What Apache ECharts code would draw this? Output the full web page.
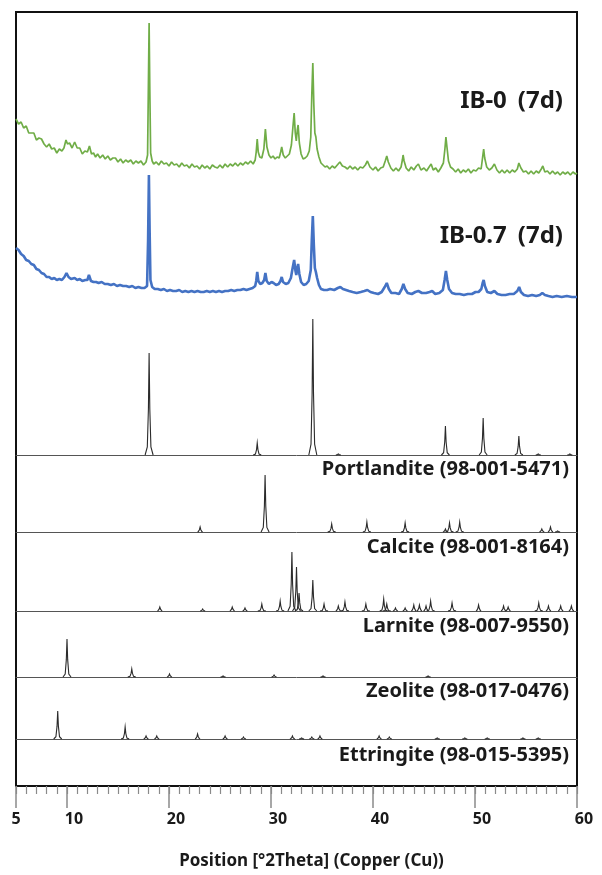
<!DOCTYPE html>
<html>
<head>
<meta charset="utf-8">
<script src="https://cdn.jsdelivr.net/npm/echarts@6/dist/echarts.min.js"></script>
<style>
  html, body { margin: 0; padding: 0; background: #fff; }
  #chart { width: 602px; height: 875px; }
</style>
</head>
<body>
<div id="chart"></div>
<script>
// 2θ range of the scan (Cu Kα)
const thetaMin = 5;
const thetaMax = 60;
const majorTicks = [5, 10, 20, 30, 40, 50, 60];

// Measured patterns, [2θ, intensity (a.u., above each trace's own zero)]
const ib0Pattern = [
  [5.00,66],[5.25,61],[5.50,63],[5.75,57],[6.00,59],[6.25,52],[6.50,52],[6.75,52],[7.00,45],[7.25,47],
  [7.50,46],[7.75,41],[8.00,38],[8.25,41],[8.50,36],[8.75,37],[9.00,32],[9.25,36],[9.50,34],[9.70,37],
  [9.90,45],[10.05,41],[10.25,42],[10.50,37],[10.75,43],[11.00,37],[11.25,37],[11.50,31],[11.75,34],[12.00,33],
  [12.20,39],[12.40,31],[12.60,32],[12.80,28],[13.00,31],[13.25,27],[13.50,30],[13.75,26],[14.00,29],[14.25,25],
  [14.50,27],[14.75,27],[15.00,23],[15.25,26],[15.50,22],[15.75,25],[16.00,23],[16.25,25],[16.50,21],[16.75,24],
  [17.00,22],[17.25,24],[17.50,20],[17.75,23],[17.90,30],[17.98,100],[18.05,162],[18.12,95],[18.20,32],[18.35,24],
  [18.50,21],[18.75,23],[19.00,20],[19.25,24],[19.50,21],[19.75,22],[20.00,19],[20.25,23],[20.50,20],[20.75,21],
  [21.00,18],[21.25,22],[21.50,19],[21.75,20],[22.00,17],[22.25,21],[22.50,18],[22.75,19],[23.00,16],[23.25,20],
  [23.50,17],[23.75,19],[24.00,16],[24.25,20],[24.50,18],[24.75,17],[25.00,20],[25.25,17],[25.50,21],[25.75,18],
  [26.00,21],[26.25,19],[26.50,22],[26.75,19],[27.00,22],[27.25,20],[27.50,23],[27.75,21],[28.00,24],[28.25,21],
  [28.45,25],[28.55,33],[28.65,46],[28.75,33],[28.90,28],[29.10,27],[29.30,36],[29.45,56],[29.60,38],[29.80,30],
  [30.00,27],[30.20,29],[30.40,26],[30.60,28],[30.80,27],[30.95,33],[31.05,38],[31.20,30],[31.40,27],[31.60,29],
  [31.80,31],[32.00,40],[32.15,58],[32.27,72],[32.38,52],[32.48,44],[32.58,55],[32.66,60],[32.78,42],[32.95,31],
  [33.15,26],[33.35,27],[33.55,29],[33.75,34],[33.90,48],[34.00,90],[34.10,122],[34.20,80],[34.30,52],[34.40,48],
  [34.52,36],[34.70,28],[34.90,22],[35.10,20],[35.30,18],[35.50,19],[35.75,16],[36.00,19],[36.25,17],[36.50,20],
  [36.75,23],[37.00,19],[37.25,18],[37.50,16],[37.75,19],[38.00,16],[38.25,18],[38.50,15],[38.75,18],[39.00,17],
  [39.25,20],[39.45,24],[39.70,18],[40.00,15],[40.25,18],[40.50,14],[40.75,17],[41.00,18],[41.20,24],[41.35,29],
  [41.50,23],[41.75,17],[42.00,14],[42.25,17],[42.50,14],[42.75,18],[42.88,25],[42.95,30],[43.05,24],[43.25,17],
  [43.50,14],[43.75,18],[44.00,15],[44.25,19],[44.45,21],[44.70,15],[45.00,17],[45.25,14],[45.50,18],[45.70,21],
  [45.90,15],[46.15,17],[46.40,13],[46.65,17],[46.90,22],[47.05,36],[47.15,48],[47.25,38],[47.40,24],[47.60,18],
  [47.85,16],[48.10,13],[48.35,16],[48.60,12],[48.85,15],[49.10,13],[49.35,16],[49.60,12],[49.85,15],[50.10,14],
  [50.35,17],[50.60,16],[50.75,28],[50.85,36],[50.95,27],[51.15,18],[51.40,15],[51.65,17],[51.90,21],[52.15,15],
  [52.40,12],[52.65,15],[52.90,12],[53.15,15],[53.40,12],[53.65,15],[53.90,13],[54.15,16],[54.30,22],[54.38,24],
  [54.50,17],[54.75,13],[55.00,14],[55.25,11],[55.50,14],[55.75,11],[56.00,14],[56.25,12],[56.50,16],[56.65,19],
  [56.85,13],[57.10,14],[57.35,11],[57.60,14],[57.85,11],[58.10,13],[58.35,10],[58.60,13],[58.85,11],[59.10,13],
  [59.35,10],[59.60,13],[59.85,11],[60.00,12]
];

const ib07Pattern = [
  [5.00,52],[5.25,50],[5.50,46],[5.75,44],[6.00,40],[6.25,39],[6.50,36],[6.75,35],[7.00,31],[7.25,30],
  [7.50,27],[7.75,26],[8.00,23],[8.25,23],[8.50,21],[8.75,22],[9.00,20],[9.25,21],[9.50,20],[9.75,23],
  [9.95,27],[10.15,23],[10.40,21],[10.75,22],[11.00,20],[11.25,21],[11.50,19],[11.80,20],[12.00,20],[12.15,25],
  [12.35,19],[12.60,18],[12.85,18],[13.10,17],[13.40,18],[13.70,16],[14.00,16],[14.30,15],[14.60,16],[14.90,14],
  [15.20,15],[15.50,14],[15.80,14],[16.10,13],[16.40,14],[16.70,12],[17.00,13],[17.30,12],[17.60,12],[17.85,14],
  [17.95,60],[18.03,125],[18.10,70],[18.18,20],[18.35,13],[18.60,11],[18.90,11],[19.20,10],[19.50,11],[19.80,9],
  [20.10,10],[20.40,9],[20.70,9],[21.00,10],[21.30,8],[21.60,9],[21.90,8],[22.20,9],[22.50,8],[22.80,9],
  [23.10,8],[23.40,8],[23.70,9],[24.00,8],[24.30,9],[24.60,8],[24.90,9],[25.20,8],[25.50,9],[25.80,9],
  [26.10,10],[26.40,9],[26.70,10],[27.00,10],[27.30,11],[27.60,10],[27.90,11],[28.20,12],[28.45,14],[28.55,19],
  [28.65,28],[28.76,19],[28.95,16],[29.15,17],[29.33,20],[29.45,27],[29.58,19],[29.80,16],[30.05,18],[30.25,17],
  [30.50,15],[30.75,16],[30.93,19],[31.05,23],[31.18,18],[31.45,16],[31.70,17],[31.95,22],[32.12,32],[32.27,40],
  [32.40,29],[32.48,25],[32.58,32],[32.66,36],[32.78,26],[32.95,18],[33.20,15],[33.45,16],[33.70,19],[33.90,30],
  [34.00,60],[34.10,84],[34.20,55],[34.30,32],[34.40,28],[34.52,22],[34.70,15],[34.90,11],[35.20,10],[35.50,10],
  [35.80,11],[36.20,10],[36.55,12],[36.80,13],[37.05,11],[37.35,10],[37.65,9],[38.00,8],[38.40,7],[38.80,8],
  [39.15,9],[39.45,10],[39.75,8],[40.10,7],[40.50,6],[40.85,8],[41.15,13],[41.35,17],[41.55,11],[41.80,7],
  [42.20,7],[42.55,6],[42.82,11],[42.98,16],[43.15,11],[43.40,7],[43.80,6],[44.15,8],[44.45,9],[44.80,7],
  [45.20,7],[45.55,8],[45.80,9],[46.10,6],[46.50,7],[46.85,10],[47.02,20],[47.15,29],[47.28,20],[47.45,11],
  [47.75,7],[48.10,6],[48.50,6],[48.90,5],[49.30,6],[49.70,6],[50.05,8],[50.35,8],[50.62,11],[50.75,17],
  [50.85,20],[50.97,14],[51.20,8],[51.55,7],[51.90,9],[52.20,6],[52.60,5],[53.00,5],[53.40,6],[53.80,6],
  [54.15,9],[54.33,13],[54.50,8],[54.80,5],[55.20,4],[55.60,5],[56.00,4],[56.35,5],[56.60,7],[56.85,5],
  [57.20,4],[57.60,3],[58.00,4],[58.50,3],[59.00,4],[59.50,3],[60.00,3]
];

// Reference cards, [2θ, relative intensity]
const portlanditePeaks = [[18.05,102],[28.65,12],[34.10,136],[36.60,1],[47.10,29],[50.80,37],[54.30,19],[56.20,1],[59.30,1]];
const calcitePeaks = [[23.05,5],[29.42,57],[35.95,8],[39.40,10],[43.15,9],[47.10,3],[47.50,9],[48.50,10],[56.55,3],[57.40,5],[58.10,1]];
const larnitePeaks = [
  [19.10,4],[23.30,2],[26.20,4],[27.45,3],[29.10,7],[30.90,10],[32.05,59],[32.50,44],[32.75,18],[34.10,31],
  [35.20,7],[36.60,5],[37.25,9],[39.30,7],[41.05,12],[41.35,7],[42.20,3],[43.15,3],[44.00,6],[44.55,6],
  [45.20,5],[45.65,10],[47.75,8],[50.35,6],[52.80,5],[53.25,4],[56.25,8],[57.20,5],[58.40,5],[59.45,5]
];
const zeolitePeaks = [[10.00,38],[16.35,8],[20.05,3],[25.30,1],[30.30,2],[35.10,1],[45.40,1]];
const ettringitePeaks = [
  [9.09,28],[15.70,12],[17.75,3],[18.80,3],[22.80,5],[25.50,3],[27.30,2],[32.10,3],[33.00,1],[34.00,2],
  [34.80,3],[40.60,3],[41.60,2],[46.30,1],[49.00,1],[51.20,1],[54.70,1],[56.20,1]
];

// Sample names and curing age
const sampleNames = ['IB-0', 'IB-0.7'];
const sampleAge = '(7d)';
const cardLabels = ['Portlandite (98-001-5471)', 'Calcite (98-001-8164)', 'Larnite (98-007-9550)',
                    'Zeolite (98-017-0476)', 'Ettringite (98-015-5395)'];
const axisTitle = 'Position [°2Theta] (Copper (Cu))';

// Panel layout: each trace gets its own strip, zero at the strip bottom
const FONT = '"Noto Sans", "DejaVu Sans", sans-serif';
const L = 16, R = 25;
const strips = [
  { top: 12,  height: 173 },  // IB-0
  { top: 150, height: 150 },  // IB-0.7
  { top: 300, height: 155 },  // Portlandite
  { top: 460, height: 72 },   // Calcite
  { top: 540, height: 71 },   // Larnite
  { top: 630, height: 47 },   // Zeolite
  { top: 700, height: 39 }    // Ettringite
];

const grid = strips.map(s => ({ left: L, right: R, top: s.top, height: s.height }));
grid.push({ left: L, right: R, top: 12, bottom: 89, show: true, borderColor: '#111', borderWidth: 2, backgroundColor: 'transparent' });
grid.push({ left: L, right: R, top: 12, bottom: 89 });

const xAxis = strips.map((s, i) => ({
  gridIndex: i, type: 'value', min: thetaMin, max: thetaMax,
  axisLine: { show: i >= 2, onZero: true, lineStyle: { color: '#555', width: 1 } },
  axisTick: { show: false }, axisLabel: { show: false }, splitLine: { show: false }
}));
const yAxis = strips.map((s, i) => ({
  gridIndex: i, type: 'value', min: 0, max: s.height, show: false, splitLine: { show: false }
}));

// Frame axis: labelled major ticks
xAxis.push({
  gridIndex: 7, type: 'value', min: thetaMin, max: thetaMax, position: 'bottom',
  axisLine: { show: true, onZero: false, lineStyle: { color: '#111', width: 2 } },
  axisTick: { show: true, customValues: majorTicks, length: 22, lineStyle: { color: '#8a8a8a', width: 1.5 } },
  axisLabel: {
    show: true, customValues: majorTicks, margin: 25,
    fontSize: 16, fontWeight: 'bold', fontFamily: FONT, color: '#1a1a1a',
    formatter: v => (v === 5 ? '{s|5}' : '{d|' + v + '}'),
    rich: {
      s: { fontSize: 16, fontWeight: 'bold', fontFamily: FONT, color: '#1a1a1a' },
      d: { fontSize: 16, fontWeight: 'bold', fontFamily: FONT, color: '#1a1a1a', padding: [0, 0, 0, 14] }
    }
  },
  splitLine: { show: false },
  name: axisTitle, nameLocation: 'middle', nameGap: 67,
  nameTextStyle: { fontSize: 17, fontWeight: 'bold', fontFamily: FONT, color: '#1a1a1a', padding: [0, 0, 0, 30] }
});
yAxis.push({ gridIndex: 7, type: 'value', min: 0, max: 1, show: false });

// Minor ticks every 1°
xAxis.push({
  gridIndex: 8, type: 'value', min: thetaMin, max: thetaMax, interval: 1, position: 'bottom',
  axisLine: { show: false, onZero: false },
  axisTick: { show: true, length: 8, lineStyle: { color: '#8a8a8a', width: 1.2 } },
  axisLabel: { show: false }, splitLine: { show: false }
});
yAxis.push({ gridIndex: 8, type: 'value', min: 0, max: 1, show: false });

// Narrow peak glyph for a reference reflection
function peakItem(params, api) {
  const c = api.value(0), h = api.value(1);
  const top = api.coord([c, h]);
  const base = api.coord([c, 0]);
  const H = base[1] - top[1];
  const x = top[0], y0 = base[1];
  const w = H > 6 ? 4 : 2.5;
  return {
    type: 'polyline',
    shape: { points: [[x - w, y0], [x - 1.8, y0 - H * 0.08], [x - 0.7, y0 - H * 0.45], [x, top[1]],
                      [x + 0.7, y0 - H * 0.45], [x + 1.8, y0 - H * 0.08], [x + w, y0]] },
    style: { stroke: '#2b2b2b', lineWidth: 1.1, fill: null }
  };
}

const series = [
  { type: 'line', xAxisIndex: 0, yAxisIndex: 0, data: ib0Pattern, showSymbol: false, smooth: false,
    lineStyle: { color: '#70ad47', width: 1.7 }, z: 3 },
  { type: 'line', xAxisIndex: 1, yAxisIndex: 1, data: ib07Pattern, showSymbol: false, smooth: false,
    lineStyle: { color: '#4472c4', width: 2.6 }, z: 3 }
];
[portlanditePeaks, calcitePeaks, larnitePeaks, zeolitePeaks, ettringitePeaks].forEach((peaks, k) => {
  series.push({ type: 'custom', xAxisIndex: k + 2, yAxisIndex: k + 2, data: peaks,
    renderItem: peakItem, clip: false, z: 3 });
});

// Sample label with a wider gap before the age tag
const sampleText = (name, x, y) => ({
  type: 'text', z: 10,
  style: {
    text: '{a|' + name + '}{g| }{a|' + sampleAge + '}', x, y, align: 'right', verticalAlign: 'middle',
    rich: {
      a: { fontSize: 24, fontWeight: 'bold', fontFamily: FONT, fill: '#1a1a1a', color: '#1a1a1a' },
      g: { fontSize: 24, fontFamily: FONT, width: 11 }
    }
  }
});
const cardText = (text, y) => ({
  type: 'text', z: 10,
  style: { text, x: 569, y, align: 'right', verticalAlign: 'middle', fill: '#1a1a1a',
           fontSize: 20, fontWeight: 'bold', fontFamily: FONT }
});
const cardY = [469, 547, 626, 691, 755];

const chart = echarts.init(document.getElementById('chart'), null, { renderer: 'canvas' });
chart.setOption({
  animation: false,
  backgroundColor: '#fff',
  grid, xAxis, yAxis, series,
  graphic: [
    sampleText(sampleNames[0], 563, 101),
    sampleText(sampleNames[1], 563, 236),
    ...cardLabels.map((t, i) => cardText(t, cardY[i]))
  ]
});
</script>
</body>
</html>
